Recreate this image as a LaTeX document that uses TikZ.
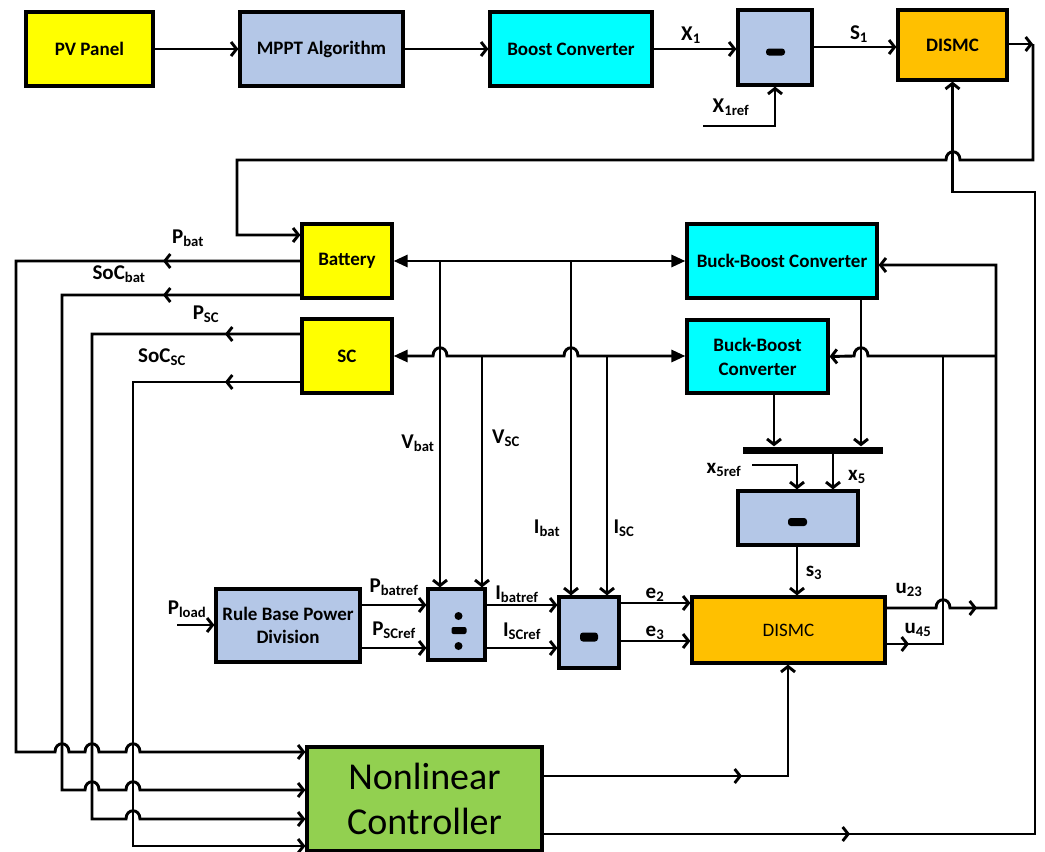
\documentclass[tikz,border=0pt]{standalone}
\usepackage{fontspec}
\setmainfont{Carlito}
\usetikzlibrary{arrows.meta,calc}
\definecolor{cyel}{HTML}{FFFF00}
\definecolor{clav}{HTML}{B4C7E7}
\definecolor{ccyan}{HTML}{00FFFF}
\definecolor{corg}{HTML}{FFC000}
\definecolor{cgrn}{HTML}{92D050}
\newcommand\boxfont{\fontsize{19}{22}\selectfont}
\newcommand\lblfont{\fontsize{21}{24}\selectfont}
\newcommand\ncfont{\fontsize{38}{45}\selectfont}
\newcommand\humpR[2]{-- ({#1-7},#2) .. controls ({#1-7},{#2-11}) and ({#1+7},{#2-11}) .. ({#1+7},#2)}
\newcommand\humpL[2]{-- ({#1+7},#2) .. controls ({#1+7},{#2-11}) and ({#1-7},{#2-11}) .. ({#1-7},#2)}
\tikzset{
  box/.style={draw, line width=3.2pt, inner sep=0pt, align=center, font=\boxfont\bfseries},
  ln/.style={line width=2.9pt},
  arr/.style={ln, -{Straight Barb[length=5.5pt,width=14pt]}},
  tri/.style={ln, {Triangle[length=14pt,width=12pt]}-{Triangle[length=14pt,width=12pt]}},
  lbl/.style={font=\lblfont\bfseries, inner sep=0pt},
}
\begin{document}
\begin{tikzpicture}[x=1pt,y=-1pt]
\useasboundingbox (0,0) rectangle (1045,852);
% ---------- nodes
\node[box,fill=cyel,minimum width=127,minimum height=74] (pv) at (89.5,49) {PV Panel};
\node[box,fill=clav,minimum width=163,minimum height=74] (mppt) at (321.5,49) {MPPT Algorithm};
\node[box,fill=ccyan,minimum width=162,minimum height=74] (boost) at (571,49) {Boost Converter};
\node[box,fill=clav,minimum width=74,minimum height=75] (m1) at (775,47.5) {};
\node[box,fill=corg,minimum width=109,minimum height=70] (dismc1) at (952.5,45) {DISMC};
\node[box,fill=cyel,minimum width=90,minimum height=74] (bat) at (347,261) {Battery};
\node[box,fill=cyel,minimum width=90,minimum height=74] (sc) at (347,356) {SC};
\node[box,fill=ccyan,minimum width=190,minimum height=74] (bb1) at (782,261) {Buck-Boost Converter};
\node[box,fill=ccyan,minimum width=141,minimum height=73] (bb2) at (757.5,356.5) {Buck-Boost\\[2pt]Converter};
\node[box,fill=clav,minimum width=144,minimum height=73] (rule) at (288,625.5) {Rule Base Power\\[1pt]Division};
\node[box,fill=clav,minimum width=57,minimum height=71] (div) at (456.5,624.5) {};
\node[box,fill=clav,minimum width=60,minimum height=71] (m2) at (589,632.5) {};
\node[box,fill=clav,minimum width=120,minimum height=54] (m3) at (798,518) {};
\node[box,fill=corg,minimum width=193,minimum height=66,font=\boxfont] (dismc2) at (788.5,630) {DISMC};
\node[box,fill=cgrn,minimum width=235,minimum height=104,font=\ncfont] (nc) at (424.5,799) {Nonlinear\\Controller};
\node[fill=black,minimum width=140,minimum height=7,inner sep=0pt] (bar) at (813,450) {};
% ---------- symbols inside boxes
\fill[rounded corners=3pt] ($(m1)+(-9,1)$) rectangle ($(m1)+(10,8)$);
\fill[rounded corners=3pt] ($(m2)+(-9,0)$) rectangle ($(m2)+(9,9)$);
\fill[rounded corners=3pt] ($(m3)+(-10,0)$) rectangle ($(m3)+(9,8)$);
\fill[rounded corners=2pt] ($(div)+(-5,2.5)$) rectangle ($(div)+(10,9.5)$);
\fill ($(div)+(2,-8.5)$) circle (4);
\fill ($(div)+(2,21.5)$) circle (4);
% ---------- top row
\draw[arr] (pv) -- (mppt);
\draw[arr] (mppt) -- (boost);
\draw[arr] (boost.east) -- (m1.west |- boost.east);
\draw[arr] (m1.east |- 0,47) -- (dismc1.west |- 0,47);
\coordinate (x1r) at (703,126);
\draw[arr] (x1r) -- (x1r -| m1.south) -- (m1.south);
\draw[arr] (dismc1.east |- 0,44) -- (1033,44);
\draw[arr] (1033,44) -- (1033,160) \humpL{953}{160} -- (237,160) -- (237,235) -- (bat.west |- 0,235);
\draw[arr] (nc.east |- 0,834) -- (1035,834) -- (1035,192) -- (dismc1.south |- 0,192) -- (dismc1.south);
\draw[arr] (838,834) -- (850,834);
\node[lbl] (lx1) at (691,35) {X\textsubscript{1}};
\node[lbl] (ls1) at (859,34) {S\textsubscript{1}};
\node[lbl] (lx1r) at (731,107) {X\textsubscript{1ref}};
% ---------- storage lines
\draw[tri] (bat.east) -- (bb1.west);
\draw[tri] (sc.east) \humpR{440}{356} \humpR{571}{356} -- (bb2.west |- sc.east);
\coordinate (jvb) at (440,261);
\coordinate (jvs) at (482,356);
\coordinate (jib) at (571,261);
\coordinate (jis) at (607,356);
\draw[arr] (jvb) -- (jvb |- div.north);
\draw[arr] (jvs) -- (jvs |- div.north);
\draw[arr] (jib) -- (jib |- m2.north);
\draw[arr] (jis) -- (jis |- m2.north);
\node[lbl] (lvb) at (418,443) {V\textsubscript{bat}};
\node[lbl] (lvs) at (506,438) {V\textsubscript{SC}};
\node[lbl] (lib) at (547,528) {I\textsubscript{bat}};
\node[lbl] (lis) at (624,528) {I\textsubscript{SC}};
% ---------- left feedback lines
\draw[arr] (bat.west) -- (16,261) -- (16,752) \humpR{62}{752} \humpR{92}{752} \humpR{133}{752} -- (nc.west |- 0,752);
\draw[arr] (bat.west |- 0,295) -- (62,295) -- (62,790) \humpR{92}{790} \humpR{133}{790} -- (nc.west |- 0,790);
\draw[arr] (sc.west |- 0,334) -- (92,334) -- (92,819) \humpR{133}{819} -- (nc.west |- 0,819);
\draw[arr] (sc.west |- 0,382) -- (133,382) -- (133,846) -- (nc.west |- 0,846);
\draw[arr] (175,261) -- (163,261);
\draw[arr] (175,295) -- (163,295);
\draw[arr] (237,334) -- (225,334);
\draw[arr] (237,382) -- (225,382);
\node[lbl] (lpb) at (188,238) {P\textsubscript{bat}};
\node[lbl] (lsb) at (119,274) {SoC\textsubscript{bat}};
\node[lbl] (lps) at (206,314) {P\textsubscript{SC}};
\node[lbl] (lss) at (162,357) {SoC\textsubscript{SC}};
% ---------- lower chain
\coordinate (pl) at (177,625);
\draw[arr] (pl) -- (rule.west |- pl);
\draw[arr] (rule.east |- 0,605) -- (div.west |- 0,605);
\draw[arr] (rule.east |- 0,648) -- (div.west |- 0,648);
\draw[arr] (div.east |- 0,605) -- (m2.west |- 0,605);
\draw[arr] (div.east |- 0,648) -- (m2.west |- 0,648);
\draw[arr] (m2.east |- 0,603) -- (dismc2.west |- 0,603);
\draw[arr] (m2.east |- 0,641) -- (dismc2.west |- 0,641);
\node[lbl] (lpl) at (187,609) {P\textsubscript{load}};
\node[lbl] (lpbr) at (394,587) {P\textsubscript{batref}};
\node[lbl] (lpsr) at (394,630) {P\textsubscript{SCref}};
\node[lbl] (libr) at (517,594) {I\textsubscript{batref}};
\node[lbl] (lisr) at (522,631) {I\textsubscript{SCref}};
\node[lbl] (le2) at (655,595) {e\textsubscript{2}};
\node[lbl] (le3) at (655,633) {e\textsubscript{3}};
% ---------- right side
\draw[arr] (dismc2.east |- 0,608) \humpR{943}{608} -- (996,608) -- (996,265) -- (bb1.east |- 0,265);
\draw[arr] (965,608) -- (977,608);
\draw[ln] (dismc2.east |- 0,644) -- (943,644) -- (943,356);
\draw[arr] (897,644) -- (909,644);
\draw[arr] (996,356) \humpL{861}{356} -- (bb2.east);
\draw[arr] (bb1.south -| 861,0) -- (bar.north -| 861,0);
\draw[arr] (bb2.south -| 774,0) -- (bar.north -| 774,0);
\draw[arr] (bar.south -| 833,0) -- (m3.north -| 833,0);
\coordinate (x5r) at (752,465);
\draw[arr] (x5r) -- (797,465) -- (m3.north -| 797,0);
\draw[arr] (m3.south -| 797,0) -- (dismc2.north -| 797,0);
\draw[arr] (nc.east |- 0,776) -- (788,776) -- (dismc2.south -| 788,0);
\draw[arr] (730,776) -- (742,776);
\node[lbl] (lx5r) at (724,470) {x\textsubscript{5ref}};
\node[lbl] (lx5) at (857,477) {x\textsubscript{5}};
\node[lbl] (ls3) at (814,573) {s\textsubscript{3}};
\node[lbl] (lu23) at (909,590) {u\textsubscript{23}};
\node[lbl] (lu45) at (918,630) {u\textsubscript{45}};
\end{tikzpicture}
\end{document}
